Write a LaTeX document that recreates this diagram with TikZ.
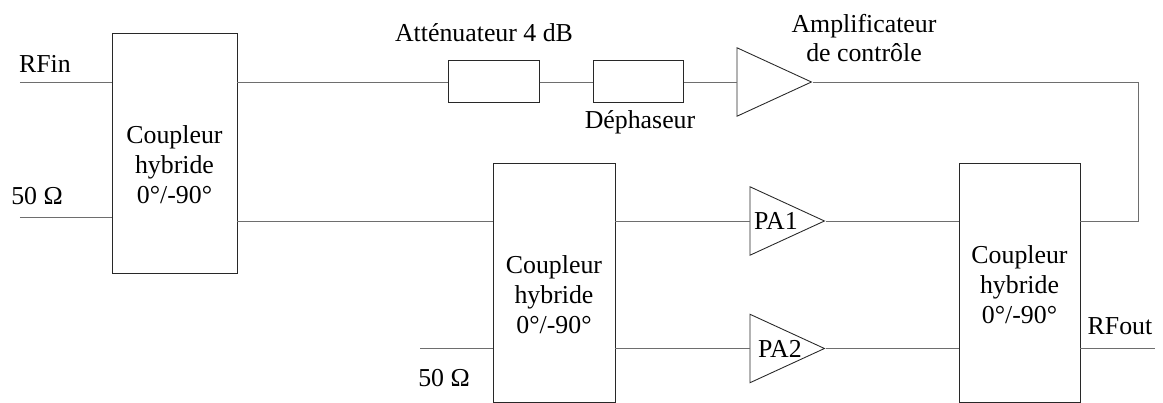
\documentclass[tikz,border=0pt]{standalone}
\usepackage{fontspec}
\setmainfont{Liberation Serif}
\usetikzlibrary{positioning,calc,shapes.geometric}
\definecolor{WireGray}{RGB}{110,110,110}
\definecolor{BoxGray}{RGB}{40,40,40}
\tikzset{
  coupler/.style={rectangle,draw=BoxGray,line width=0.5pt,inner sep=0pt,minimum width=2.44cm,minimum height=4.78cm},
  elem/.style={rectangle,draw=BoxGray,line width=0.5pt,inner sep=0pt,minimum width=1.81cm,minimum height=0.85cm},
  ampli/.style={isosceles triangle,isosceles triangle stretches,draw=BoxGray,line width=0.5pt,inner sep=0pt,minimum width=1.37cm,minimum height=1.49cm,anchor=lower side},
  wire/.style={draw=WireGray,line width=0.5pt},
  lab/.style={inner sep=0pt,font=\fontsize{14.7}{17}\selectfont,align=center},
}
\begin{document}
\begin{tikzpicture}
\useasboundingbox (0,0) rectangle (23.26,-8.06);
\node[coupler,minimum width=2.5cm,minimum height=4.8cm](couplerA) at (3.49,-3.06){};
\node[coupler](couplerB) at (11.08,-5.65){};
\node[coupler,minimum width=2.42cm](couplerC) at (20.39,-5.65){};
\node[elem](att) at (9.88,-1.63){};
\node[elem](dep) at (12.77,-1.63){};
\node[ampli](ctrl) at (14.73,-1.64){};
\node[ampli](paA) at (14.99,-4.42){};
\node[ampli](paB) at (14.99,-6.97){};
\coordinate (rfin) at (0.4,-1.64);
\coordinate (loadA) at (0.4,-4.34);
\coordinate (loadB) at (8.4,-6.97);
\coordinate (rfout) at (23.1,-6.97);
\coordinate (corner) at (22.76,-1.64);
% coupler labels
\node[lab](txtA) at (3.49,-3.3){Coupleur\\hybride\\0°/-90°};
\node[lab](txtB) at (11.08,-5.9){Coupleur\\hybride\\0°/-90°};
\node[lab](txtC) at (20.39,-5.7){Coupleur\\hybride\\0°/-90°};
% other labels
\node[lab](labin) at (0.9,-1.28){RFin};
\node[lab](labA) at (0.74,-3.92){50 Ω};
\node[lab](labB) at (8.88,-7.56){50 Ω};
\node[lab](labout) at (22.4,-6.53){RFout};
\node[lab](labatt) at (9.68,-0.66){Atténuateur 4 dB};
\node[lab](labdep) at (12.8,-2.45){Déphaseur};
\node[lab](labctrl) at (17.28,-0.76){Amplificateur\\de contrôle};
\node[lab](labpaA) at (15.52,-4.42){PA1};
\node[lab](labpaB) at (15.6,-6.97){PA2};
% wires
\draw[wire] (rfin)--(rfin-|couplerA.west);
\draw[wire] (loadA)--(loadA-|couplerA.west);
\draw[wire] (rfin-|couplerA.east)--(rfin-|att.west);
\draw[wire] (rfin-|att.east)--(rfin-|dep.west);
\draw[wire] (rfin-|dep.east)--(rfin-|ctrl.lower side);
\draw[wire] (ctrl.apex)--(corner)--(corner|-paA.apex)--(paA.apex-|couplerC.east);
\draw[wire] (couplerA.east|-paA.apex)--(couplerB.west|-paA.apex);
\draw[wire] (couplerB.east|-paA.apex)--(paA.lower side);
\draw[wire] (paA.apex)--(paA.apex-|couplerC.west);
\draw[wire] (loadB)--(loadB-|couplerB.west);
\draw[wire] (couplerB.east|-paB.apex)--(paB.lower side);
\draw[wire] (paB.apex)--(paB.apex-|couplerC.west);
\draw[wire] (rfout-|couplerC.east)--(rfout);
\end{tikzpicture}
\end{document}
